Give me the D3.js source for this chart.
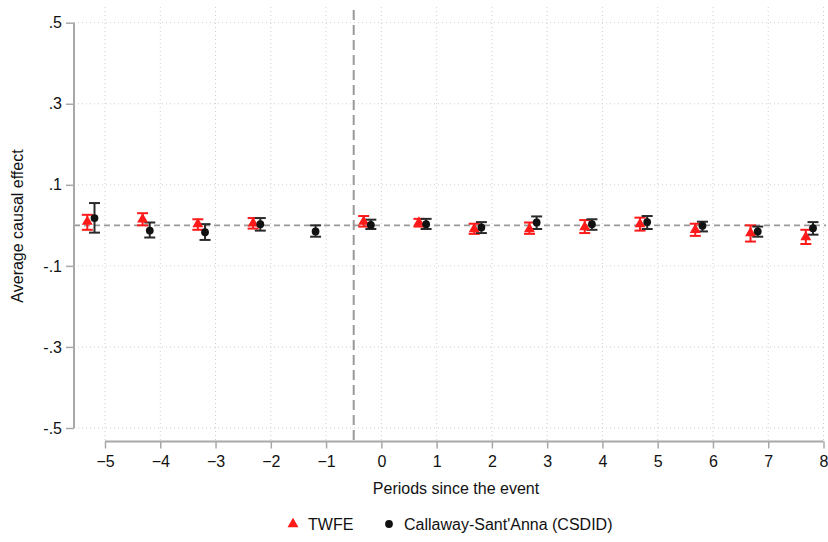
<!DOCTYPE html>
<html>
<head>
<meta charset="utf-8">
<script src="https://cdn.jsdelivr.net/npm/d3@7"></script>
<style>
  html, body { margin: 0; padding: 0; background: #fff; }
  svg { display: block; font-family: "Liberation Sans", Arial, sans-serif; }
</style>
</head>
<body>
<svg id="chart" width="828" height="542"></svg>
<script>
// Event-study estimates by period relative to the event
const periods = [-5, -4, -3, -2, -1, 0, 1, 2, 3, 4, 5, 6, 7, 8];

// TWFE (no estimate for the reference period -1)
const twfePeriods = [-5, -4, -3, -2, 0, 1, 2, 3, 4, 5, 6, 7, 8];
const twfeEst = [0.009, 0.015, 0.003, 0.005, 0.009, 0.007, -0.009, -0.009, -0.004, 0.003, -0.011, -0.019, -0.029];
const twfeLo  = [-0.011, 0.000, -0.011, -0.008, -0.003, -0.003, -0.021, -0.021, -0.019, -0.013, -0.026, -0.040, -0.046];
const twfeHi  = [0.026, 0.030, 0.015, 0.018, 0.023, 0.016, 0.004, 0.007, 0.013, 0.019, 0.004, 0.000, -0.011];

// Callaway-Sant'Anna (CSDID)
const csPeriods = [-5, -4, -3, -2, -1, 0, 1, 2, 3, 4, 5, 6, 7, 8];
const csEst = [0.018, -0.013, -0.017, 0.003, -0.015, 0.001, 0.003, -0.005, 0.007, 0.003, 0.008, -0.001, -0.015, -0.007];
const csLo  = [-0.018, -0.030, -0.036, -0.013, -0.028, -0.009, -0.009, -0.019, -0.009, -0.011, -0.009, -0.015, -0.028, -0.023];
const csHi  = [0.055, 0.007, 0.003, 0.018, 0.000, 0.014, 0.016, 0.008, 0.022, 0.015, 0.023, 0.009, -0.003, 0.008];

// Horizontal shift of each series so the two sets of estimates sit side by side
const twfeShift = -0.32;
const csShift = -0.19;

const yTicks = [-0.5, -0.3, -0.1, 0.1, 0.3, 0.5];
const yTickLabels = ["-.5", "-.3", "-.1", ".1", ".3", ".5"];
const eventLine = -0.5;

const svg = d3.select("#chart");
const x = d3.scaleLinear().domain([-5, 8]).range([105, 823.5]);
const y = d3.scaleLinear().domain([-0.5, 0.5]).range([428, 22.7]);

const plotTop = 7, plotBottom = 441.5, plotLeft = 74, plotRight = 826;
const fontSize = 16;

// grid
const grid = svg.append("g");
grid.selectAll("line.hg").data(yTicks).join("line")
  .attr("x1", plotLeft).attr("x2", plotRight)
  .attr("y1", d => y(d)).attr("y2", d => y(d))
  .attr("stroke", "#cfcfcf").attr("stroke-width", 1).attr("stroke-dasharray", "1,3");
grid.selectAll("line.vg").data(periods).join("line")
  .attr("x1", d => x(d)).attr("x2", d => x(d))
  .attr("y1", plotTop).attr("y2", plotBottom)
  .attr("stroke", "#cfcfcf").attr("stroke-width", 1).attr("stroke-dasharray", "1,3");

// reference lines
svg.append("line")
  .attr("x1", plotLeft).attr("x2", plotRight)
  .attr("y1", y(0)).attr("y2", y(0))
  .attr("stroke", "#999").attr("stroke-width", 1.6).attr("stroke-dasharray", "6,4");
svg.append("line")
  .attr("x1", x(eventLine)).attr("x2", x(eventLine))
  .attr("y1", plotTop + 3).attr("y2", plotBottom)
  .attr("stroke", "#999").attr("stroke-width", 2).attr("stroke-dasharray", "10,5");

// axes
const yAxis = d3.axisLeft(y).tickValues(yTicks)
  .tickFormat((d, i) => yTickLabels[i]).tickSize(8).tickPadding(4);
const gy = svg.append("g").attr("transform", `translate(${plotLeft},0)`).call(yAxis);
gy.select(".domain").attr("d", `M0,${y(0.5)}V${y(-0.5)}`).attr("stroke", "#a8a8a8").attr("stroke-width", 2);

const xAxis = d3.axisBottom(x).tickValues(periods).tickSize(7).tickPadding(7);
const gx = svg.append("g").attr("transform", `translate(0,${plotBottom})`).call(xAxis);
gx.select(".domain").attr("d", `M${x(-5)},0H${x(8)}`).attr("stroke", "#a8a8a8").attr("stroke-width", 2);

[gx, gy].forEach(g => {
  g.selectAll(".tick line").attr("stroke", "#a8a8a8").attr("stroke-width", 1.5);
  g.selectAll(".tick text").attr("fill", "#111").attr("font-size", fontSize)
    .attr("font-family", "'Liberation Sans', Arial, sans-serif");
});

// axis titles
svg.append("text").attr("x", 456).attr("y", 494).attr("text-anchor", "middle")
  .attr("font-size", fontSize).attr("fill", "#111").text("Periods since the event");
svg.append("text").attr("transform", `translate(23,226) rotate(-90)`).attr("text-anchor", "middle")
  .attr("font-size", fontSize).attr("fill", "#111").text("Average causal effect");

// confidence intervals drawn as capped ranges
function caps(g, px, lo, hi, shift, color) {
  const capW = 5.5;
  const sel = g.selectAll("g").data(px.map((p, i) => ({p, lo: lo[i], hi: hi[i]}))).join("g");
  sel.append("line")
    .attr("x1", d => x(d.p + shift)).attr("x2", d => x(d.p + shift))
    .attr("y1", d => y(d.lo)).attr("y2", d => y(d.hi))
    .attr("stroke", color).attr("stroke-width", 2);
  sel.append("line")
    .attr("x1", d => x(d.p + shift) - capW).attr("x2", d => x(d.p + shift) + capW)
    .attr("y1", d => y(d.lo)).attr("y2", d => y(d.lo))
    .attr("stroke", color).attr("stroke-width", 2);
  sel.append("line")
    .attr("x1", d => x(d.p + shift) - capW).attr("x2", d => x(d.p + shift) + capW)
    .attr("y1", d => y(d.hi)).attr("y2", d => y(d.hi))
    .attr("stroke", color).attr("stroke-width", 2);
}

const twfeColor = "#ff1a1a", csColor = "#111";
caps(svg.append("g"), twfePeriods, twfeLo, twfeHi, twfeShift, twfeColor);
caps(svg.append("g"), csPeriods, csLo, csHi, csShift, "#2a2a2a");

const tri = d3.symbol().type(d3.symbolTriangle).size(52);
svg.append("g").selectAll("path").data(twfePeriods.map((p, i) => ({p, v: twfeEst[i]}))).join("path")
  .attr("d", tri)
  .attr("transform", d => `translate(${x(d.p + twfeShift)},${y(d.v)})`)
  .attr("fill", twfeColor);
svg.append("g").selectAll("circle").data(csPeriods.map((p, i) => ({p, v: csEst[i]}))).join("circle")
  .attr("cx", d => x(d.p + csShift)).attr("cy", d => y(d.v)).attr("r", 3.9)
  .attr("fill", csColor);

// legend
const legend = svg.append("g").attr("font-size", fontSize).attr("fill", "#111");
legend.append("path").attr("d", tri).attr("transform", "translate(293,524)").attr("fill", twfeColor);
legend.append("text").attr("x", 308).attr("y", 530).text("TWFE");
legend.append("circle").attr("cx", 389).attr("cy", 524).attr("r", 3.9).attr("fill", csColor);
legend.append("text").attr("x", 404).attr("y", 530).text("Callaway-Sant'Anna (CSDID)");
</script>
</body>
</html>
